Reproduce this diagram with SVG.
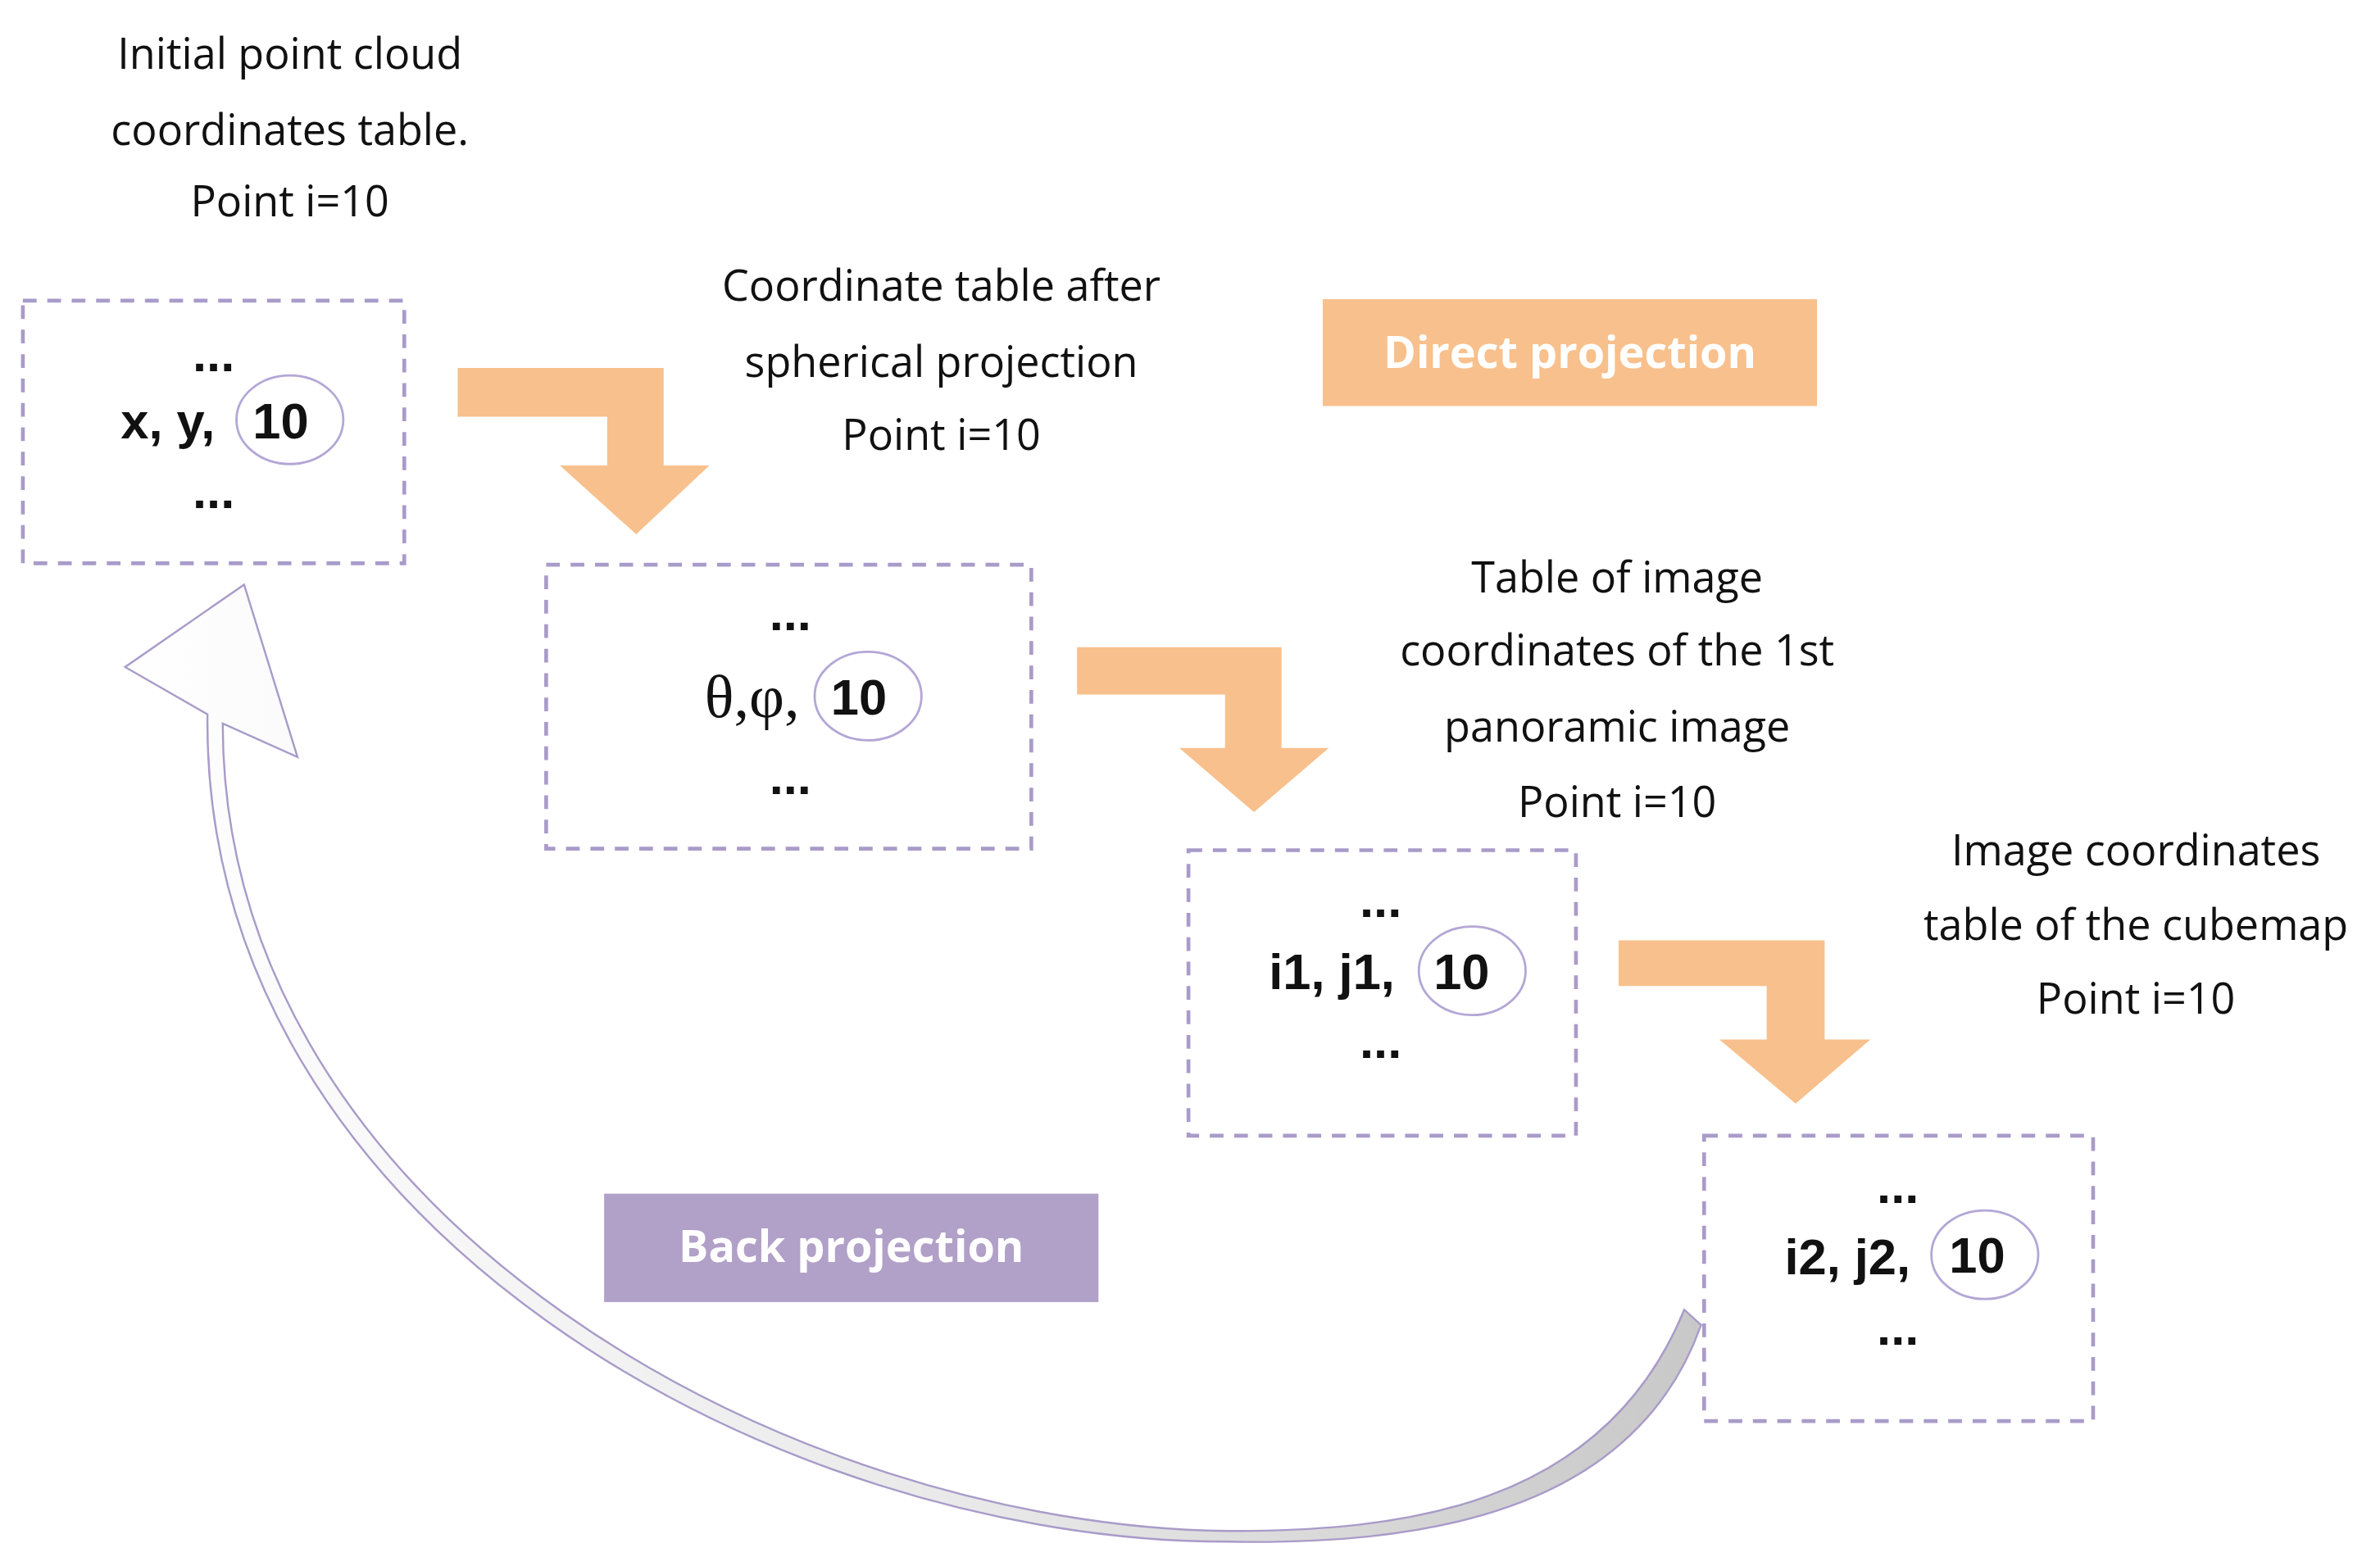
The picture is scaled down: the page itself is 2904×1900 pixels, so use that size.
<svg xmlns="http://www.w3.org/2000/svg" width="2904" height="1900" viewBox="0 0 2904 1900">
<defs>
<style>
.box{fill:none;stroke:#a99bc9;stroke-width:2.5;stroke-dasharray:9,7}
.lbl{font-family:"Open Sans","Noto Sans",sans-serif;font-size:28px;fill:#111;text-anchor:middle}
.val{font-family:"Liberation Sans",Arial,sans-serif;font-size:33px;font-weight:bold;fill:#111;text-anchor:middle}
.el{fill:#fff;stroke:#b4a7d6;stroke-width:1.5}
.arr{fill:#f8c08c}
.tag{font-family:"Open Sans","Noto Sans",sans-serif;font-size:29px;font-weight:bold;fill:#fff;text-anchor:middle}
</style>
<linearGradient id="g" x1="1" y1="0" x2="0" y2="0"><stop offset="0" stop-color="#c8c8c8"/><stop offset="0.45" stop-color="#e8e8e8"/><stop offset="1" stop-color="#ffffff"/></linearGradient>
</defs>
<rect width="2904" height="1900" fill="#fff"/>
<g transform="scale(1.8615,1.8627)">
<g id="connectors">
<path class="arr" d="M300,241 H435 V305 H465 L417,350 L367,305 H398 V273 H300 Z"/>
<path class="arr" d="M706,424 H840 V490 H871 L822,532 L773,490 H803 V455 H706 Z"/>
<path class="arr" d="M1061,616 H1196 V681 H1226 L1177,723 L1127,681 H1158 V646 H1061 Z"/>
<path d="M1104,858 C1050,990 915,1003 805,1003 C520,1000 146,800 146,474 L195,496 L160,383 L82,437 L136,468 C132,805 510,1010 805,1010 C925,1012 1070,995 1115,868 Z" fill="url(#g)" stroke="#a99bc9" stroke-width="1.3"/>
</g>
<g id="t1"><text class="lbl" x="190" y="45">Initial point cloud</text><text class="lbl" x="190" y="95">coordinates table.</text><text class="lbl" x="190" y="142">Point i=10</text></g>
<g id="t2"><text class="lbl" x="617" y="197">Coordinate table after</text><text class="lbl" x="617" y="247">spherical projection</text><text class="lbl" x="617" y="295">Point i=10</text></g>
<g id="t3"><text class="lbl" x="1060" y="388">Table of image</text><text class="lbl" x="1060" y="436">coordinates of the 1st</text><text class="lbl" x="1060" y="486">panoramic image</text><text class="lbl" x="1060" y="535">Point i=10</text></g>
<g id="t4"><text class="lbl" x="1400" y="567">Image coordinates</text><text class="lbl" x="1400" y="616">table of the cubemap</text><text class="lbl" x="1400" y="664">Point i=10</text></g>
<g id="direct"><rect x="867" y="196" width="324" height="70" fill="#f8c08c"/><text class="tag" x="1029" y="241">Direct projection</text></g>
<g id="back"><rect x="396" y="782" width="324" height="71" fill="#b1a0c7"/><text class="tag" x="558" y="827">Back projection</text></g>
<g id="box1"><rect class="box" x="15" y="197" width="250" height="172"/>
<text class="val" x="140" y="243">...</text><text class="val" x="110" y="287">x, y,</text>
<ellipse class="el" cx="190" cy="275" rx="35" ry="29"/><text class="val" x="184" y="287">10</text>
<text class="val" x="140" y="333">...</text></g>
<g id="box2"><rect class="box" x="358" y="370" width="318" height="186"/>
<text class="val" x="518" y="413">...</text><text x="493" y="470" font-family="Liberation Serif,serif" font-size="40" text-anchor="middle" fill="#111">θ,φ,</text>
<ellipse class="el" cx="569" cy="456" rx="35" ry="29"/><text class="val" x="563" y="468">10</text>
<text class="val" x="518" y="520">...</text></g>
<g id="box3"><rect class="box" x="779" y="557" width="254" height="187"/>
<text class="val" x="905" y="601">...</text><text class="val" x="873" y="648">i1, j1,</text>
<ellipse class="el" cx="965" cy="636" rx="35" ry="29"/><text class="val" x="958" y="648">10</text>
<text class="val" x="905" y="693">...</text></g>
<g id="box4"><rect class="box" x="1117" y="744" width="255" height="187"/>
<text class="val" x="1244" y="788">...</text><text class="val" x="1211" y="835">i2, j2,</text>
<ellipse class="el" cx="1301" cy="822" rx="35" ry="29"/><text class="val" x="1296" y="834">10</text>
<text class="val" x="1244" y="881">...</text></g>
</g>
</svg>
